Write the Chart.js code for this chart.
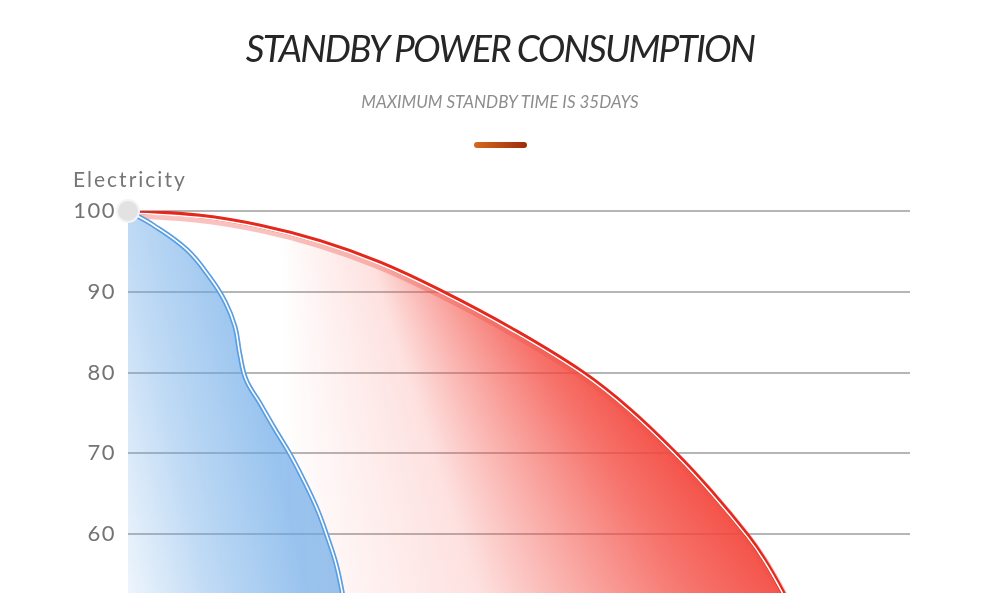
<!DOCTYPE html>
<html>
<head>
<meta charset="utf-8">
<script src="https://cdn.jsdelivr.net/npm/chart.js@4.4.1/dist/chart.umd.min.js"></script>
<style>
  html, body { margin: 0; padding: 0; background: #fff; width: 1000px; height: 593px; overflow: hidden; }
  .wrap { position: relative; width: 1000px; height: 593px; overflow: hidden; }
  #chartCanvas { position: absolute; left: 0; top: 0; }
  .txt { position: absolute; left: 0; width: 1000px; text-align: center; line-height: 1; font-family: Lato, "Open Sans", sans-serif; font-style: italic; white-space: nowrap; }
  .title { top: 29px; font-size: 37px; letter-spacing: -1.8px; color: #262626; }
  .sub { top: 93px; font-size: 17px; color: #8d8d8d; }
  .bar { position: absolute; left: 474px; top: 142px; width: 53px; height: 6px; border-radius: 3px;
         background: linear-gradient(to right, #d4691f, #9c2c0b); }
  .ylabel { position: absolute; left: 73px; top: 168px; font-family: Lato, "Open Sans", sans-serif; font-size: 21px; line-height: 1; letter-spacing: 2px; color: #767676; }
</style>
</head>
<body>
<div class="wrap">
  <canvas id="chartCanvas" width="1000" height="640"></canvas>
  <div class="txt title">STANDBY POWER CONSUMPTION</div>
  <div class="txt sub">MAXIMUM STANDBY TIME IS 35DAYS</div>
  <div class="bar"></div>
  <div class="ylabel">Electricity</div>
</div>
<script>
// standby time (days) vs remaining electricity (%)
const blueDays  = [0, 1.32, 3.11, 4.32, 5.11, 5.63, 5.89, 6.21, 6.95, 7.74, 8.53, 9.32, 10.0, 10.53, 10.95, 11.26, 11.47];
const bluePower = [100, 98.27, 95.19, 91.73, 88.77, 85.68, 82.22, 79.14, 76.17, 72.96, 69.88, 66.3, 62.84, 59.38, 56.3, 52.96, 50];

const redDays  = [0, 3.79, 6.95, 10.11, 13.26, 16.42, 20.16, 23.89, 26.37, 28.84, 30.68, 32.58, 33.47, 34.42, 35.03];
const redPower = [100, 99.38, 98.15, 96.23, 93.58, 90.12, 85.43, 80.05, 75.47, 69.93, 65.26, 59.88, 56.89, 53.0, 50];

const yTicks = [100, 90, 80, 70, 60, 50];

const toPoints = (xs, ys) => xs.map((x, i) => ({ x: x, y: ys[i] }));

// blue area: light at the left edge, deeper towards the curve
function blueFill(c) {
  const chart = c.chart;
  const area = chart.chartArea;
  if (!area) return 'rgba(100,165,230,0.4)';
  const xs = chart.scales.x;
  const x0 = xs.getPixelForValue(0), x1 = xs.getPixelForValue(9);
  const g = chart.ctx.createLinearGradient(x0 - 8, area.bottom - 16, x1, area.bottom - 56);
  g.addColorStop(0, 'rgba(100,165,230,0.08)');
  g.addColorStop(0.5, 'rgba(100,165,230,0.42)');
  g.addColorStop(1, 'rgba(100,165,230,0.66)');
  return g;
}

// red area: fan shaped fade, white on the left, strong red along the lower curve
function redFill(c) {
  const chart = c.chart;
  const area = chart.chartArea;
  if (!area) return 'rgba(243,70,60,0.4)';
  const cx = chart.scales.x.getPixelForValue(8);
  const cy = chart.scales.y.getPixelForValue(128.5);
  const c2 = chart.ctx;
  if (!c2.createConicGradient) {
    const g = c2.createRadialGradient(cx, area.bottom, 380, cx, area.bottom, 600);
    g.addColorStop(0, 'rgba(243,70,60,0)');
    g.addColorStop(1, 'rgba(243,70,60,0.9)');
    return g;
  }
  const deg = Math.PI / 180;
  const g = c2.createConicGradient(30 * deg, cx, cy);
  g.addColorStop(0, 'rgba(243,70,60,0.95)');
  g.addColorStop(20 / 360, 'rgba(243,70,60,0.93)');
  g.addColorStop(26 / 360, 'rgba(243,70,60,0.75)');
  g.addColorStop(34 / 360, 'rgba(243,70,60,0.45)');
  g.addColorStop(42 / 360, 'rgba(243,70,60,0.16)');
  g.addColorStop(60 / 360, 'rgba(243,70,60,0)');
  g.addColorStop(1, 'rgba(243,70,60,0)');
  return g;
}

// nudges the highlight / glow lines a bit downwards
const shiftPlugin = {
  id: 'shift',
  beforeDatasetDraw(chart, args) {
    const ds = chart.data.datasets[args.index];
    chart.ctx.save();
    if (ds.shift) chart.ctx.translate(0, ds.shift);
  },
  afterDatasetDraw(chart) {
    chart.ctx.restore();
  }
};

const spacingPlugin = {
  id: 'spacing',
  beforeDraw(chart) { chart.ctx.letterSpacing = '1.5px'; }
};

const ctx = document.getElementById('chartCanvas').getContext('2d');

new Chart(ctx, {
  type: 'line',
  data: {
    datasets: [
      {
        label: 'start',
        data: [{ x: blueDays[0], y: bluePower[0] }],
        showLine: false,
        pointRadius: 11,
        pointBackgroundColor: '#e2e2e2',
        pointBorderColor: '#f4f4f4',
        pointBorderWidth: 2,
        clip: false,
        order: 0
      },
      {
        label: 'blue highlight',
        data: toPoints(blueDays, bluePower),
        borderColor: '#ffffff',
        borderWidth: 1.6,
        pointRadius: 0,
        fill: false,
        order: 1
      },
      {
        label: 'blue',
        data: toPoints(blueDays, bluePower),
        borderColor: '#5a9fe3',
        borderWidth: 5,
        backgroundColor: blueFill,
        pointRadius: 0,
        fill: 'start',
        order: 2
      },
      {
        label: 'red highlight',
        data: toPoints(redDays, redPower),
        borderColor: '#ffffff',
        borderWidth: 1.5,
        pointRadius: 0,
        fill: false,
        shift: 1.6,
        order: 3
      },
      {
        label: 'red',
        data: toPoints(redDays, redPower),
        borderColor: '#e6271c',
        borderWidth: 4.5,
        pointRadius: 0,
        fill: false,
        order: 4
      },
      {
        label: 'red area',
        data: toPoints(redDays, redPower),
        borderColor: 'rgba(238,80,70,0.35)',
        borderWidth: 9,
        backgroundColor: redFill,
        pointRadius: 0,
        fill: 'start',
        shift: 2.5,
        order: 5
      }
    ]
  },
  options: {
    responsive: false,
    animation: false,
    tension: 0.4,
    layout: { padding: { left: 0, right: 90, top: 211, bottom: 24 } },
    plugins: {
      legend: { display: false },
      tooltip: { enabled: false }
    },
    scales: {
      x: { type: 'linear', min: 0, max: 41.16, display: false },
      y: {
        min: 50,
        max: 100,
        afterFit: s => { s.width = 128; },
        afterBuildTicks: s => { s.ticks = yTicks.map(v => ({ value: v })); },
        border: { display: false },
        grid: { color: 'rgba(110,110,110,0.5)', lineWidth: 2, drawTicks: false },
        ticks: {
          color: '#737373',
          padding: 12,
          font: { family: 'Lato, "Open Sans", sans-serif', size: 22 }
        }
      }
    }
  },
  plugins: [shiftPlugin, spacingPlugin]
});
</script>
</body>
</html>
